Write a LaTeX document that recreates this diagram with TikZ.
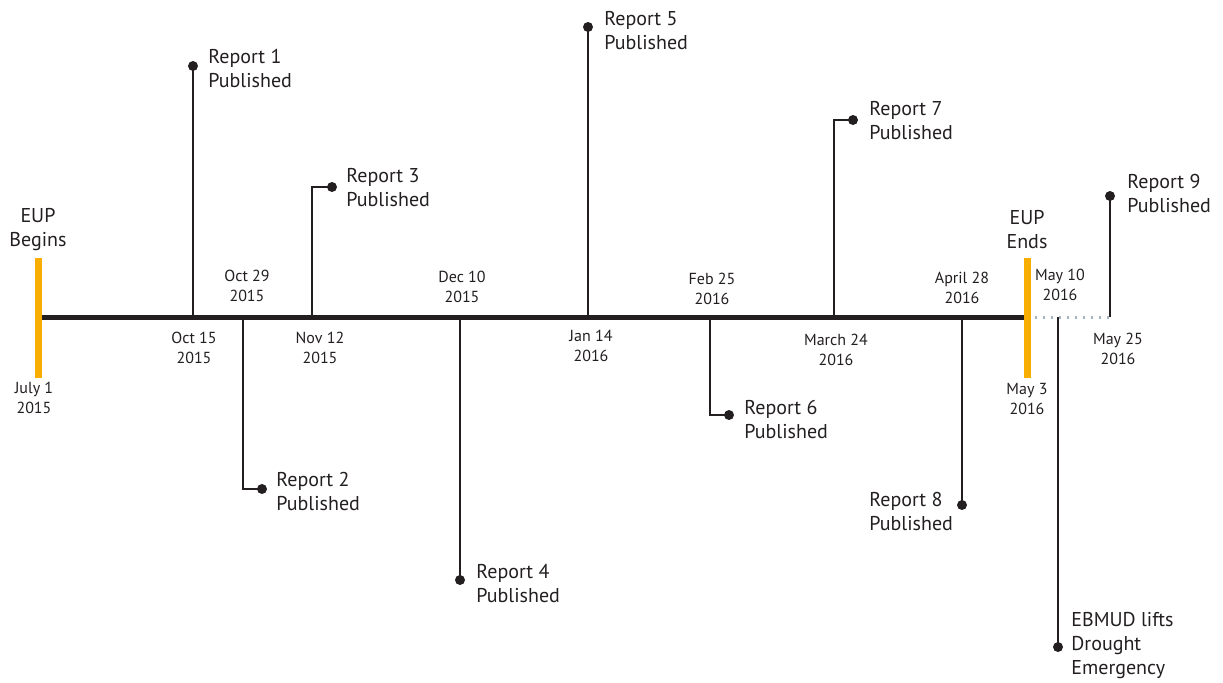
\documentclass[tikz,border=0pt]{standalone}
\usepackage{fontspec}
\setmainfont{PT Sans}
\definecolor{ink}{HTML}{231F20}
\definecolor{eup}{HTML}{F7AE00}
\definecolor{dotgray}{HTML}{A9B4C4}
\begin{document}
\begin{tikzpicture}[x=0.5pt,y=-0.5pt,
  axis/.style={line width=2.5pt,draw=ink},
  stem/.style={line width=1pt,draw=ink},
  eupbar/.style={line width=3.5pt,draw=eup},
  dotnode/.style={circle,fill=ink,inner sep=0pt,minimum size=5pt},
  lab/.style={font=\fontsize{10}{12}\selectfont,align=left,inner sep=0pt,text=ink},
  datelab/.style={font=\fontsize{8}{10}\selectfont,align=center,inner sep=0pt,text=ink},
  extlab/.style={font=\fontsize{10}{12}\selectfont,align=center,inner sep=0pt,text=ink}]
\useasboundingbox (0,0) rectangle (1223,682);
% axis points
\coordinate (start) at (38,317);
\coordinate (endp) at (1027,317);
\coordinate (a1) at (193,317);
\coordinate (a2) at (243,317);
\coordinate (a3) at (312,317);
\coordinate (a4) at (460,317);
\coordinate (a5) at (588,317);
\coordinate (a6) at (710,317);
\coordinate (a7) at (834,317);
\coordinate (a8) at (962,317);
\coordinate (a9) at (1058,317);
\coordinate (a10) at (1110,317);
\coordinate (tail) at (1112,317);
% EUP bars
\coordinate (b1t) at (38,258); \coordinate (b1b) at (38,378);
\coordinate (b2t) at (1027,258); \coordinate (b2b) at (1027,378);
% dotted extension
\draw[dotgray,line width=1.5pt,dash pattern=on 1pt off 3pt] (endp) -- (tail);
% stems and dots
\node[dotnode] (d1) at (193,66) {};
\draw[stem] (a1) -- (d1.center);
\node[dotnode] (d2) at (262,489) {};
\draw[stem] (a2) |- (d2.center);
\node[dotnode] (d3) at (332,187) {};
\draw[stem] (a3) |- (d3.center);
\node[dotnode] (d4) at (460,580) {};
\draw[stem] (a4) -- (d4.center);
\node[dotnode] (d5) at (588,27) {};
\draw[stem] (a5) -- (d5.center);
\node[dotnode] (d6) at (729,415) {};
\draw[stem] (a6) |- (d6.center);
\node[dotnode] (d7) at (853,120) {};
\draw[stem] (a7) |- (d7.center);
\node[dotnode] (d8) at (962,505) {};
\draw[stem] (a8) -- (d8.center);
\node[dotnode] (d9) at (1058,647) {};
\draw[stem] (a9) -- (d9.center);
\node[dotnode] (d10) at (1110,196) {};
\draw[stem] (a10) -- (d10.center);
% axis
\draw[axis] (start) -- (endp);
\draw[eupbar] (b1t) -- (b1b);
\draw[eupbar] (b2t) -- (b2b);
% labels
\node[lab,anchor=west] (l1) at (208,68) {Report 1\\Published};
\node[lab,anchor=west] (l2) at (276,491) {Report 2\\Published};
\node[lab,anchor=west] (l3) at (346,188) {Report 3\\Published};
\node[lab,anchor=west] (l4) at (476,583) {Report 4\\Published};
\node[lab,anchor=west] (l5) at (604,31) {Report 5\\Published};
\node[lab,anchor=west] (l6) at (744,419) {Report 6\\Published};
\node[lab,anchor=west] (l7) at (869,121) {Report 7\\Published};
\node[lab,anchor=west] (l8) at (869,511) {Report 8\\Published};
\node[lab,anchor=west] (l9) at (1127,193) {Report 9\\Published};
\node[lab,anchor=west] (l10) at (1071,646) {EBMUD lifts\\Drought\\Emergency};
\node[extlab] (eb) at (38,230) {EUP\\Begins};
\node[extlab] (ee) at (1027,230) {EUP\\Ends};
% dates
\node[datelab] (t0) at (34,398) {July 1\\2015};
\node[datelab] (t1) at (194,348) {Oct 15\\2015};
\node[datelab] (t2) at (247,286) {Oct 29\\2015};
\node[datelab] (t3) at (320,348) {Nov 12\\2015};
\node[datelab] (t4) at (462,287) {Dec 10\\2015};
\node[datelab] (t5) at (591,346) {Jan 14\\2016};
\node[datelab] (t6) at (712,289) {Feb 25\\2016};
\node[datelab] (t7) at (836,350) {March 24\\2016};
\node[datelab] (t8) at (962,288) {April 28\\2016};
\node[datelab] (t9) at (1027,399) {May 3\\2016};
\node[datelab] (t10) at (1060,285) {May 10\\2016};
\node[datelab] (t11) at (1118,349) {May 25\\2016};
\end{tikzpicture}
\end{document}
